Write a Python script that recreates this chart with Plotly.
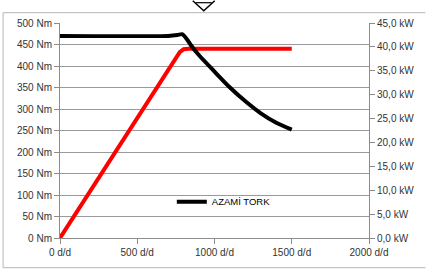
import plotly.graph_objects as go

# Data
torque_rpm = [0, 700, 760, 790, 820, 850, 900, 1000, 1100, 1200, 1300, 1400, 1500]
torque_nm = [470, 470, 472, 474, 463, 447, 425, 387, 350, 318, 290, 268, 252]
power_rpm = [0, 775, 800, 830, 1500]
power_kw = [0, 38.9, 39.5, 39.6, 39.6]
x_ticks = [0, 500, 1000, 1500, 2000]
x_labels = ["0 d/d", "500 d/d", "1000 d/d", "1500 d/d", "2000 d/d"]
nm_ticks = list(range(0, 501, 50))
nm_labels = [f"{v} Nm" for v in nm_ticks]
kw_ticks = [0, 5, 10, 15, 20, 25, 30, 35, 40, 45]
kw_labels = [f"{v:.1f} kW".replace(".", ",") for v in kw_ticks]

W, H = 426, 276
L, R, T, B = 60, 369.5, 23.3, 238.3

def px(x):
    return (x - L) / (R - L)

def py(y):
    return (B - y) / (B - T)

fig = go.Figure()
fig.add_trace(go.Scatter(x=power_rpm, y=power_kw, mode="lines", yaxis="y",
                         line=dict(color="#ff0000", width=4), showlegend=False,
                         name="GÜÇ"))
fig.add_trace(go.Scatter(x=torque_rpm, y=torque_nm, mode="lines", yaxis="y2",
                         line=dict(color="#000000", width=4, shape="spline", smoothing=0.6),
                         name="AZAMİ TORK", showlegend=True))

font = dict(family="Liberation Sans, Arial, sans-serif", size=10, color="#333333")
axcol = "#8c8c8c"

fig.update_layout(
    width=W, height=H,
    margin=dict(l=L, r=W - R, t=T, b=H - B, pad=0),
    paper_bgcolor="white", plot_bgcolor="white",
    font=font,
    xaxis=dict(range=[0, 2000], tickvals=x_ticks, ticktext=x_labels, showgrid=False,
               showline=True, linecolor=axcol, linewidth=1, ticks="outside",
               ticklen=5, tickcolor=axcol, zeroline=False, fixedrange=True),
    yaxis=dict(range=[0, 45], tickvals=kw_ticks, ticktext=kw_labels, side="right",
               showgrid=False, showline=True, linecolor=axcol, linewidth=1,
               ticks="outside", ticklen=5, tickcolor=axcol, zeroline=False),
    yaxis2=dict(range=[0, 500], tickvals=nm_ticks, ticktext=nm_labels, side="left",
                overlaying="y", showgrid=True, gridcolor="#9a9a9a", gridwidth=1,
                showline=True, linecolor=axcol, linewidth=1, ticks="outside",
                ticklen=5, tickcolor=axcol, zeroline=False),
    legend=dict(x=px(172), y=py(202), xanchor="left", yanchor="middle",
                bgcolor="rgba(0,0,0,0)", font=dict(size=9.5, color="#000000"),
                itemwidth=30, tracegroupgap=0),
    showlegend=True,
)

# outer chart border (partial, as in reference)
border = "#b5b5b5"
fig.add_shape(type="line", xref="paper", yref="paper", x0=px(3), x1=px(426), y0=py(13), y1=py(13),
              line=dict(color=border, width=1))
fig.add_shape(type="line", xref="paper", yref="paper", x0=px(3), x1=px(3), y0=py(13), y1=py(268),
              line=dict(color=border, width=1))
fig.add_shape(type="line", xref="paper", yref="paper", x0=px(3), x1=px(426), y0=py(268), y1=py(268),
              line=dict(color=border, width=1))
# icon at top
fig.add_shape(type="path", xref="paper", yref="paper",
              path=f"M{px(193)},{py(1)} L{px(204)},{py(11)} L{px(215)},{py(1)}",
              line=dict(color="#000000", width=1.5))
fig.add_shape(type="line", xref="paper", yref="paper", x0=px(196), x1=px(212), y0=py(3), y1=py(3),
              line=dict(color="#000000", width=1.2))

fig.write_html("out.html", config={"displayModeBar": False},
               post_script="document.body.style.margin='0px';")
